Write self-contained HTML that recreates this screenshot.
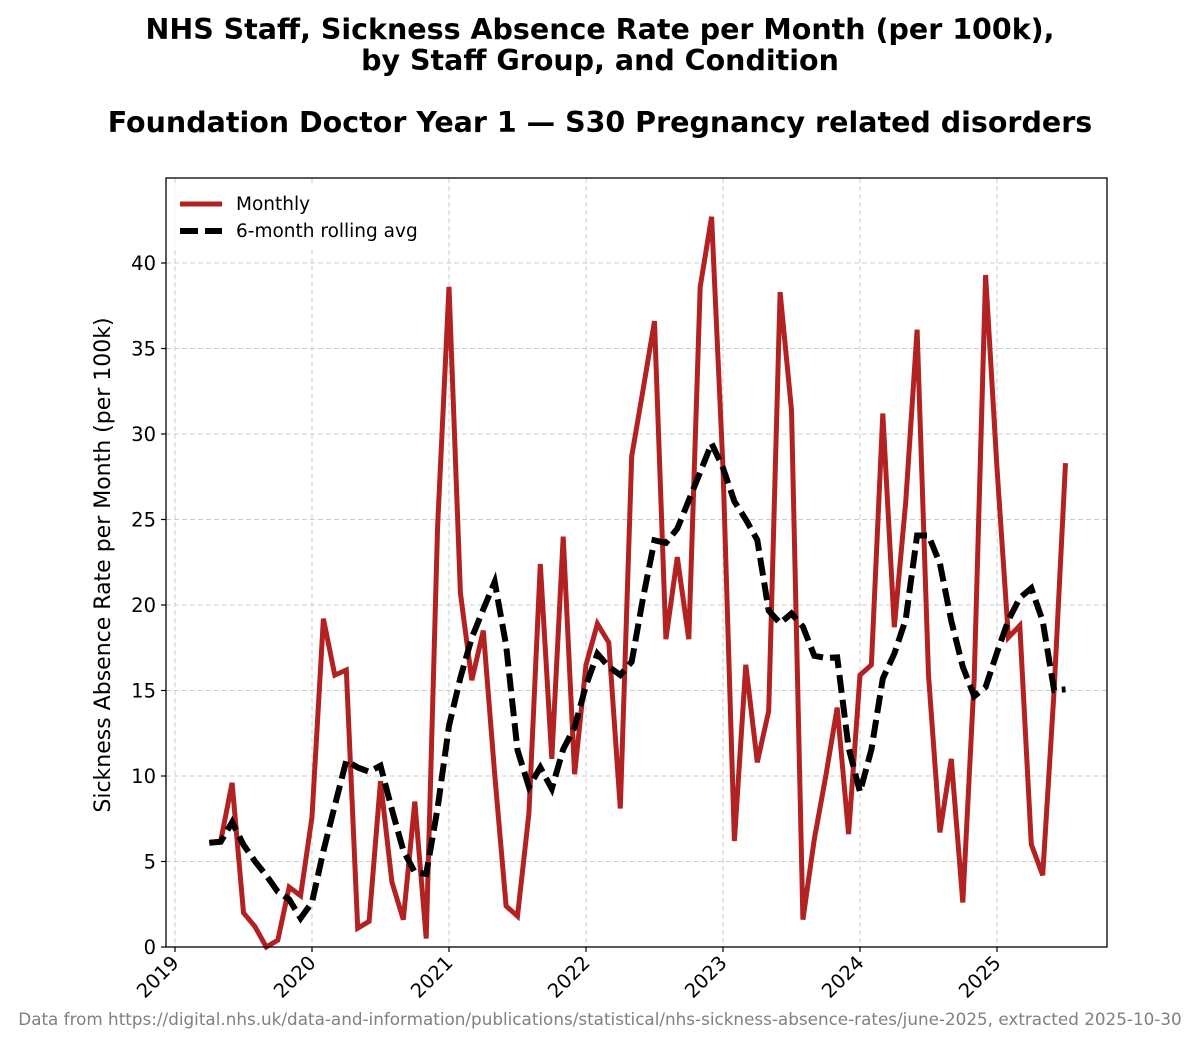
<!DOCTYPE html>
<html><head><meta charset="utf-8"><style>
body{margin:0;background:#fff;font-family:"Liberation Sans","DejaVu Sans",sans-serif}
</style></head><body>
<svg id="chart" width="1200" height="1043" xmlns="http://www.w3.org/2000/svg" font-family="DejaVu Sans, Liberation Sans, sans-serif">
<text x="600" y="39" text-anchor="middle" font-size="28.5" font-weight="bold">NHS Staff, Sickness Absence Rate per Month (per 100k),</text>
<text x="600" y="70" text-anchor="middle" font-size="28.5" font-weight="bold">by Staff Group, and Condition</text>
<text x="600" y="132" text-anchor="middle" font-size="28.5" font-weight="bold">Foundation Doctor Year 1 — S30 Pregnancy related disorders</text>
<g id="grid"></g>
<g id="series"></g>
<rect x="166" y="178" width="941" height="769" fill="none" stroke="#000" stroke-width="1.3"/>
<g id="axes"></g>
<text transform="translate(110,565) rotate(-90)" text-anchor="middle" font-size="22">Sickness Absence Rate per Month (per 100k)</text>
<g>
<rect x="172" y="186" width="260" height="62" fill="#fff" fill-opacity="0.8" stroke="none"/>
<line x1="180" y1="204" x2="222" y2="204" stroke="#b22222" stroke-width="5"/>
<text x="236" y="210" font-size="18.5">Monthly</text>
<line x1="180" y1="231" x2="222" y2="231" stroke="#000" stroke-width="6" stroke-dasharray="18,7"/>
<text x="236" y="237" font-size="18.5">6-month rolling avg</text>
</g>
<text x="600" y="1025" text-anchor="middle" font-size="16.8" fill="#808080">Data from https://digital.nhs.uk/data-and-information/publications/statistical/nhs-sickness-absence-rates/june-2025, extracted 2025-10-30</text>
</svg>
<script>
const startYear = 2019, startMonth = 4;
const monthly = [6.1,6.2,9.6,2.0,1.2,0.0,0.4,3.5,3.0,
7.6,19.2,15.9,16.2,1.1,1.5,9.7,3.8,1.6,8.5,0.5,24.6,
38.6,20.7,15.6,18.5,10.1,2.4,1.8,7.8,22.4,11.0,24.0,10.1,
16.5,18.9,17.8,8.1,28.7,32.6,36.6,18.0,22.8,18.0,38.6,42.7,
28.0,6.2,16.5,10.8,13.8,38.3,31.4,1.6,6.3,10.0,14.0,6.6,
15.9,16.5,31.2,18.7,26.0,36.1,15.9,6.7,11.0,2.6,15.7,39.3,
28.0,18.1,18.8,6.0,4.2,15.0,28.3];
const yTicks = [0,5,10,15,20,25,30,35,40];
const xTickYears = [2019,2020,2021,2022,2023,2024,2025];
const rollingWindow = 6;

const NS='http://www.w3.org/2000/svg';
const x0=175, yearPx=137, yBase=947, unitPx=17.1;
const xScale = t => x0 + (t-2019)*yearPx;
const yScale = v => yBase - v*unitPx;
const monthT = i => { const m = startMonth-1+i; return startYear + Math.floor(m/12) + (m%12)/12; };
function mk(tag, attrs, parent){const e=document.createElementNS(NS,tag);for(const k in attrs)e.setAttribute(k,attrs[k]);parent.appendChild(e);return e;}
const grid=document.getElementById('grid'), axes=document.getElementById('axes'), series=document.getElementById('series');
yTicks.forEach(v=>{
  const y=yScale(v);
  const g=mk('line',{x1:166,x2:1107,y1:y,y2:y,stroke:'#ccc','stroke-width':1,'stroke-dasharray':'5,3'},grid);
  
  
  const t=mk('line',{x1:161,x2:166,y1:y,y2:y,stroke:'#000','stroke-width':1.2},axes);
  
  
  const l=mk('text',{x:156,y:y+7,'text-anchor':'end','font-size':19.5},axes);
  
  
  l.textContent=v;
});
xTickYears.forEach(yr=>{
  const x=xScale(yr);
  const g=mk('line',{x1:x,x2:x,y1:178,y2:947,stroke:'#ccc','stroke-width':1,'stroke-dasharray':'5,3'},grid);
  
  
  const t=mk('line',{x1:x,x2:x,y1:947,y2:952,stroke:'#000','stroke-width':1.2},axes);
  
  
  const l=mk('text',{x:x+5,y:964,'text-anchor':'end','font-size':19.5,transform:`rotate(-45 ${x+5} 964)`},axes);
  
  
  l.textContent=yr;
});
const rolling = monthly.map((v,i)=>{const s=monthly.slice(Math.max(0,i-rollingWindow+1),i+1);return s.reduce((a,b)=>a+b,0)/s.length;});
const pts = arr => arr.map((v,i)=>xScale(monthT(i)).toFixed(1)+','+yScale(v).toFixed(1)).join(' ');
const p1=mk('polyline',{points:pts(monthly),fill:'none',stroke:'#b22222','stroke-width':5,'stroke-linejoin':'miter'},series);


const p2=mk('polyline',{points:pts(rolling),fill:'none',stroke:'#000','stroke-width':6,'stroke-dasharray':'18,7'},series);


</script>
</body></html>
